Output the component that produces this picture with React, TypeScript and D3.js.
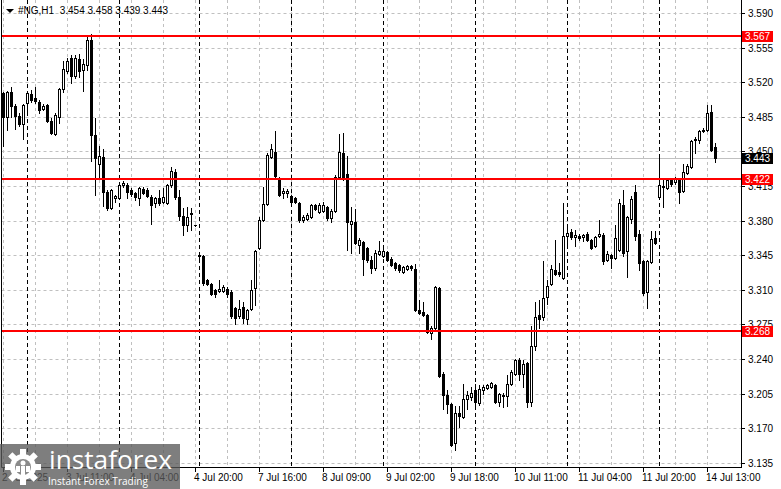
import React from 'react';
import * as d3 from 'd3';

const symbol = '#NG,H1';

const opens = [
  3.509, 3.485, 3.510, 3.496, 3.486, 3.478,
  3.499, 3.508, 3.504, 3.500, 3.493, 3.497, 3.481, 3.468, 3.485, 3.513, 3.531, 3.544, 3.526, 3.543, 3.532, 3.537, 3.563, 3.467, 3.437, 3.444, 3.409, 3.393, 3.403,
  3.403, 3.416, 3.416, 3.411, 3.408, 3.403, 3.412, 3.411, 3.404, 3.398, 3.403, 3.399, 3.398, 3.416, 3.429, 3.404, 3.385, 3.375, 3.387, 3.375,
  3.345, 3.344, 3.320, 3.316, 3.310, 3.309, 3.309, 3.311, 3.308, 3.292, 3.283, 3.293, 3.280, 3.291, 3.312, 3.352, 3.381, 3.397, 3.444, 3.449, 3.423, 3.408, 3.408,
  3.405, 3.403, 3.398, 3.381, 3.382, 3.384, 3.396, 3.389, 3.390, 3.394, 3.383, 3.390, 3.424, 3.448, 3.427, 3.377, 3.379, 3.355, 3.358, 3.352, 3.340, 3.332, 3.346,
  3.344, 3.348, 3.341, 3.337, 3.335, 3.328, 3.331, 3.334, 3.331, 3.290, 3.287, 3.284, 3.266, 3.271, 3.312, 3.225, 3.203, 3.194, 3.155, 3.185, 3.181, 3.199, 3.201,
  3.209, 3.195, 3.209, 3.211, 3.212, 3.214, 3.196, 3.204, 3.202, 3.215, 3.225, 3.239, 3.225, 3.236, 3.196, 3.253, 3.284, 3.282, 3.303, 3.316, 3.330, 3.328, 3.322,
  3.364, 3.368, 3.363, 3.364, 3.363, 3.366, 3.360, 3.354, 3.364, 3.365, 3.340, 3.345, 3.342, 3.350, 3.396, 3.349, 3.382, 3.409, 3.366, 3.339, 3.308, 3.338, 3.362,
  3.404, 3.414, 3.413, 3.421, 3.419, 3.422, 3.410, 3.428, 3.434, 3.461, 3.462, 3.471, 3.472, 3.490, 3.454,
];

const highs = [
  3.510, 3.511, 3.515, 3.498, 3.489, 3.498,
  3.511, 3.512, 3.515, 3.502, 3.498, 3.498, 3.484, 3.489, 3.514, 3.541, 3.544, 3.548, 3.548, 3.549, 3.543, 3.568, 3.569, 3.484, 3.455, 3.452, 3.411, 3.412, 3.406,
  3.419, 3.420, 3.418, 3.413, 3.409, 3.414, 3.414, 3.413, 3.406, 3.404, 3.411, 3.413, 3.417, 3.434, 3.432, 3.411, 3.393, 3.394, 3.393, 3.375,
  3.346, 3.345, 3.321, 3.317, 3.311, 3.320, 3.315, 3.313, 3.310, 3.293, 3.300, 3.298, 3.291, 3.320, 3.350, 3.384, 3.414, 3.448, 3.457, 3.471, 3.424, 3.413, 3.412,
  3.406, 3.404, 3.399, 3.386, 3.388, 3.397, 3.397, 3.398, 3.399, 3.395, 3.392, 3.426, 3.468, 3.469, 3.445, 3.394, 3.392, 3.362, 3.359, 3.353, 3.344, 3.350, 3.359,
  3.354, 3.349, 3.343, 3.338, 3.336, 3.334, 3.335, 3.335, 3.336, 3.300, 3.298, 3.285, 3.273, 3.314, 3.313, 3.227, 3.209, 3.195, 3.192, 3.192, 3.215, 3.208, 3.212,
  3.215, 3.214, 3.214, 3.215, 3.217, 3.215, 3.206, 3.206, 3.224, 3.229, 3.240, 3.241, 3.239, 3.237, 3.273, 3.298, 3.300, 3.339, 3.320, 3.335, 3.360, 3.337, 3.398,
  3.372, 3.371, 3.370, 3.366, 3.366, 3.368, 3.361, 3.364, 3.381, 3.367, 3.349, 3.346, 3.375, 3.402, 3.411, 3.385, 3.405, 3.416, 3.370, 3.340, 3.340, 3.369, 3.369,
  3.443, 3.423, 3.422, 3.423, 3.424, 3.423, 3.437, 3.437, 3.462, 3.465, 3.472, 3.474, 3.497, 3.497, 3.458,
];

const lows = [
  3.455, 3.472, 3.485, 3.473, 3.476, 3.463,
  3.489, 3.500, 3.499, 3.489, 3.492, 3.480, 3.468, 3.467, 3.479, 3.510, 3.529, 3.519, 3.524, 3.525, 3.511, 3.532, 3.440, 3.406, 3.423, 3.395, 3.391, 3.392, 3.399,
  3.402, 3.414, 3.403, 3.405, 3.401, 3.396, 3.407, 3.404, 3.377, 3.394, 3.396, 3.398, 3.397, 3.414, 3.402, 3.381, 3.365, 3.369, 3.370, 3.374,
  3.342, 3.315, 3.315, 3.305, 3.303, 3.308, 3.308, 3.303, 3.281, 3.275, 3.281, 3.276, 3.275, 3.289, 3.295, 3.351, 3.380, 3.396, 3.443, 3.423, 3.405, 3.403, 3.404,
  3.398, 3.398, 3.379, 3.379, 3.381, 3.383, 3.391, 3.388, 3.389, 3.381, 3.379, 3.389, 3.423, 3.421, 3.350, 3.347, 3.356, 3.347, 3.325, 3.338, 3.327, 3.330, 3.345,
  3.343, 3.339, 3.334, 3.330, 3.328, 3.327, 3.330, 3.330, 3.288, 3.285, 3.283, 3.266, 3.260, 3.270, 3.222, 3.189, 3.185, 3.152, 3.148, 3.171, 3.180, 3.189, 3.198,
  3.192, 3.193, 3.205, 3.210, 3.211, 3.195, 3.192, 3.191, 3.192, 3.214, 3.224, 3.219, 3.212, 3.191, 3.192, 3.249, 3.271, 3.279, 3.296, 3.315, 3.325, 3.324, 3.321,
  3.355, 3.361, 3.354, 3.360, 3.359, 3.359, 3.351, 3.353, 3.363, 3.336, 3.339, 3.332, 3.341, 3.349, 3.344, 3.323, 3.378, 3.360, 3.330, 3.305, 3.292, 3.337, 3.356,
  3.403, 3.394, 3.412, 3.415, 3.417, 3.398, 3.409, 3.427, 3.433, 3.448, 3.458, 3.470, 3.471, 3.450, 3.439,
];

const closes = [
  3.485, 3.510, 3.496, 3.486, 3.478, 3.497,
  3.509, 3.502, 3.501, 3.492, 3.496, 3.481, 3.469, 3.487, 3.513, 3.533, 3.541, 3.526, 3.544, 3.531, 3.538, 3.563, 3.467, 3.443, 3.445, 3.409, 3.393, 3.411, 3.405,
  3.416, 3.418, 3.409, 3.407, 3.404, 3.413, 3.408, 3.405, 3.396, 3.403, 3.398, 3.404, 3.416, 3.430, 3.404, 3.385, 3.375, 3.384, 3.388, 3.375,
  3.344, 3.317, 3.316, 3.306, 3.306, 3.311, 3.313, 3.306, 3.283, 3.281, 3.291, 3.281, 3.290, 3.310, 3.349, 3.381, 3.397, 3.446, 3.452, 3.425, 3.406, 3.410, 3.410,
  3.399, 3.399, 3.381, 3.384, 3.386, 3.396, 3.392, 3.396, 3.396, 3.383, 3.390, 3.424, 3.449, 3.422, 3.379, 3.380, 3.357, 3.360, 3.341, 3.340, 3.332, 3.347, 3.349,
  3.349, 3.340, 3.335, 3.332, 3.330, 3.333, 3.334, 3.332, 3.289, 3.286, 3.284, 3.267, 3.271, 3.313, 3.223, 3.203, 3.194, 3.153, 3.185, 3.182, 3.199, 3.204, 3.206,
  3.196, 3.210, 3.212, 3.214, 3.216, 3.196, 3.205, 3.202, 3.215, 3.227, 3.239, 3.225, 3.235, 3.196, 3.253, 3.282, 3.280, 3.302, 3.314, 3.331, 3.326, 3.326, 3.364,
  3.367, 3.363, 3.365, 3.362, 3.365, 3.360, 3.352, 3.363, 3.366, 3.339, 3.346, 3.342, 3.362, 3.398, 3.347, 3.384, 3.402, 3.364, 3.337, 3.307, 3.339, 3.361, 3.357,
  3.416, 3.415, 3.421, 3.417, 3.422, 3.409, 3.429, 3.435, 3.460, 3.463, 3.471, 3.472, 3.489, 3.451, 3.443,
];

const timeLabels = [
  '2 Jul 2025', '3 Jul 11:00', '4 Jul 04:00', '4 Jul 20:00', '7 Jul 16:00', '8 Jul 09:00',
  '9 Jul 02:00', '9 Jul 18:00', '10 Jul 11:00', '11 Jul 04:00', '11 Jul 20:00', '14 Jul 13:00',
];
const dayStartBars = [6, 29, 49, 72, 95, 118, 141, 164];
const priceTicks = [3.59, 3.555, 3.52, 3.485, 3.45, 3.415, 3.38, 3.345, 3.31, 3.275, 3.24, 3.205, 3.17, 3.135];
const levels = [3.567, 3.422, 3.268];

const FONT = '"Liberation Sans", Arial, sans-serif';

export default function App() {
  const W = 781;
  const H = 489;
  const n = opens.length;
  const last = n - 1;
  const plotL = 1.5;
  const plotR = 741.5;
  const plotB = 467.5;

  const x = d3.scaleLinear().domain([0, last]).range([3, 715]);
  const y = d3.scaleLinear().domain([3.135, 3.59]).range([462.7, 13]);
  const px = (i: number) => Math.round(x(i));
  const py = (v: number) => Math.round(y(v));

  const gridBars = d3.range(0, n, 8);
  const labelBars = timeLabels.map((_, k) => k * 16);
  const lastClose = closes[last];

  const header = `${symbol}  ${opens[last].toFixed(3)} ${highs[last].toFixed(3)} ${lows[last].toFixed(3)} ${closes[last].toFixed(3)}`;

  // gear teeth
  const teeth = d3.range(8).map((k) => k * 45);

  return (
    <svg width={W} height={H} style={{ position: 'absolute', left: 0, top: 0, background: '#fff' }}
      xmlns="http://www.w3.org/2000/svg">
      <rect x={0} y={0} width={W} height={H} fill="#ffffff" />
      {/* horizontal grid */}
      {priceTicks.map((t) => (
        <line key={'hg' + t} x1={plotL} x2={plotR} y1={py(t) + 0.5} y2={py(t) + 0.5}
          stroke="#c0c0c0" strokeWidth={1} strokeDasharray="3,3" />
      ))}
      {/* vertical grid */}
      {gridBars.map((b) => (
        <line key={'vg' + b} x1={px(b) + 0.5} x2={px(b) + 0.5} y1={0} y2={plotB}
          stroke="#c0c0c0" strokeWidth={1} strokeDasharray="3,3" />
      ))}
      {/* day separators */}
      {dayStartBars.map((b) => (
        <line key={'ds' + b} x1={px(b) + 0.5} x2={px(b) + 0.5} y1={0} y2={plotB}
          stroke="#000" strokeWidth={1} strokeDasharray="4,3" />
      ))}
      {/* current price line */}
      <line x1={plotL} x2={plotR} y1={py(lastClose) + 0.5} y2={py(lastClose) + 0.5} stroke="#c0c0c0" strokeWidth={1} />

      {/* candles */}
      {opens.map((o, i) => {
        const c = closes[i];
        const h = highs[i];
        const l = lows[i];
        const cx = px(i);
        const yh = py(h);
        const yl = py(l);
        const top = py(Math.max(o, c));
        const bot = py(Math.min(o, c));
        const bull = c > o;
        return (
          <g key={'c' + i}>
            <rect x={cx} y={yh} width={1} height={Math.max(1, yl - yh + 1)} fill="#000" />
            {bull ? (
              <rect x={cx - 0.5} y={top + 0.5} width={2} height={Math.max(1, bot - top)}
                fill="#fff" stroke="#000" strokeWidth={1} />
            ) : (
              <rect x={cx - 1} y={top} width={3} height={Math.max(1, bot - top + 1)} fill="#000" />
            )}
          </g>
        );
      })}

      {/* support / resistance lines */}
      {levels.map((lv) => (
        <rect key={'lv' + lv} x={plotL} y={py(lv) - 1} width={plotR - plotL} height={2} fill="#ff0000" />
      ))}

      {/* frame */}
      <line x1={plotL} x2={plotL} y1={0} y2={plotB} stroke="#000" />
      <line x1={plotR} x2={plotR} y1={0} y2={plotB + 0.5} stroke="#000" />
      <line x1={plotL} x2={plotR} y1={plotB} y2={plotB} stroke="#000" />

      {/* y axis */}
      {priceTicks.map((t) => (
        <g key={'yt' + t}>
          <line x1={plotR} x2={745} y1={py(t) + 0.5} y2={py(t) + 0.5} stroke="#000" />
          <text x={748} y={py(t) + 0.5} dy="0.35em" fontFamily={FONT} fontSize={10} fill="#000">{t.toFixed(3)}</text>
        </g>
      ))}

      {/* x axis */}
      {labelBars.map((b, k) => (
        <g key={'xt' + b}>
          <line x1={px(b) + 0.5} x2={px(b) + 0.5} y1={plotB} y2={472} stroke="#000" />
          <text x={px(b) - 1} y={481} fontFamily={FONT} fontSize={10} fill="#000">{timeLabels[k]}</text>
        </g>
      ))}

      {/* price tags */}
      {levels.map((lv) => (
        <g key={'tag' + lv}>
          <rect x={742} y={py(lv) - 5} width={31} height={11} fill="#ff0000" />
          <text x={745} y={py(lv) + 0.5} dy="0.35em" fontFamily={FONT} fontSize={10} fill="#fff">{lv.toFixed(3)}</text>
        </g>
      ))}
      <g>
        <rect x={742} y={py(lastClose) - 5} width={31} height={11} fill="#000" />
        <text x={745} y={py(lastClose) + 0.5} dy="0.35em" fontFamily={FONT} fontSize={10} fill="#fff">{lastClose.toFixed(3)}</text>
      </g>

      {/* header */}
      <polygon points="6,9 14,9 10,13" fill="#000" />
      <text x={18} y={14} fontFamily={FONT} fontSize={10} fill="#000" style={{ whiteSpace: 'pre' }}>{header}</text>

      {/* watermark */}
      <g>
        <rect x={0} y={444} width={180} height={45} fill="#5a5a5a" opacity={0.78} />
        <g transform="translate(23,467)">
          <circle r={13} fill="#fff" />
          {teeth.map((a) => (
            <rect key={'t' + a} x={-3} y={-18} width={6} height={7} fill="#fff" transform={`rotate(${a})`} />
          ))}
          <circle r={8} fill="#8a8a8a" />
          <circle cx={0} cy={-4} r={2.5} fill="#fff" />
          <rect x={-2} y={-1} width={4} height={9} fill="#fff" />
          <rect x={-7} y={-1} width={4} height={6} fill="#fff" />
          <rect x={3} y={-1} width={4} height={6} fill="#fff" />
        </g>
        <text x={49} y={469} fontFamily='"Open Sans", sans-serif' fontSize={26} fill="#fff"
          textLength={123} lengthAdjust="spacingAndGlyphs">instaforex</text>
        <text x={48} y={485} fontFamily='"Open Sans", sans-serif' fontSize={11.5} fill="#fff"
          textLength={100} lengthAdjust="spacingAndGlyphs">Instant Forex Trading</text>
      </g>
    </svg>
  );
}
